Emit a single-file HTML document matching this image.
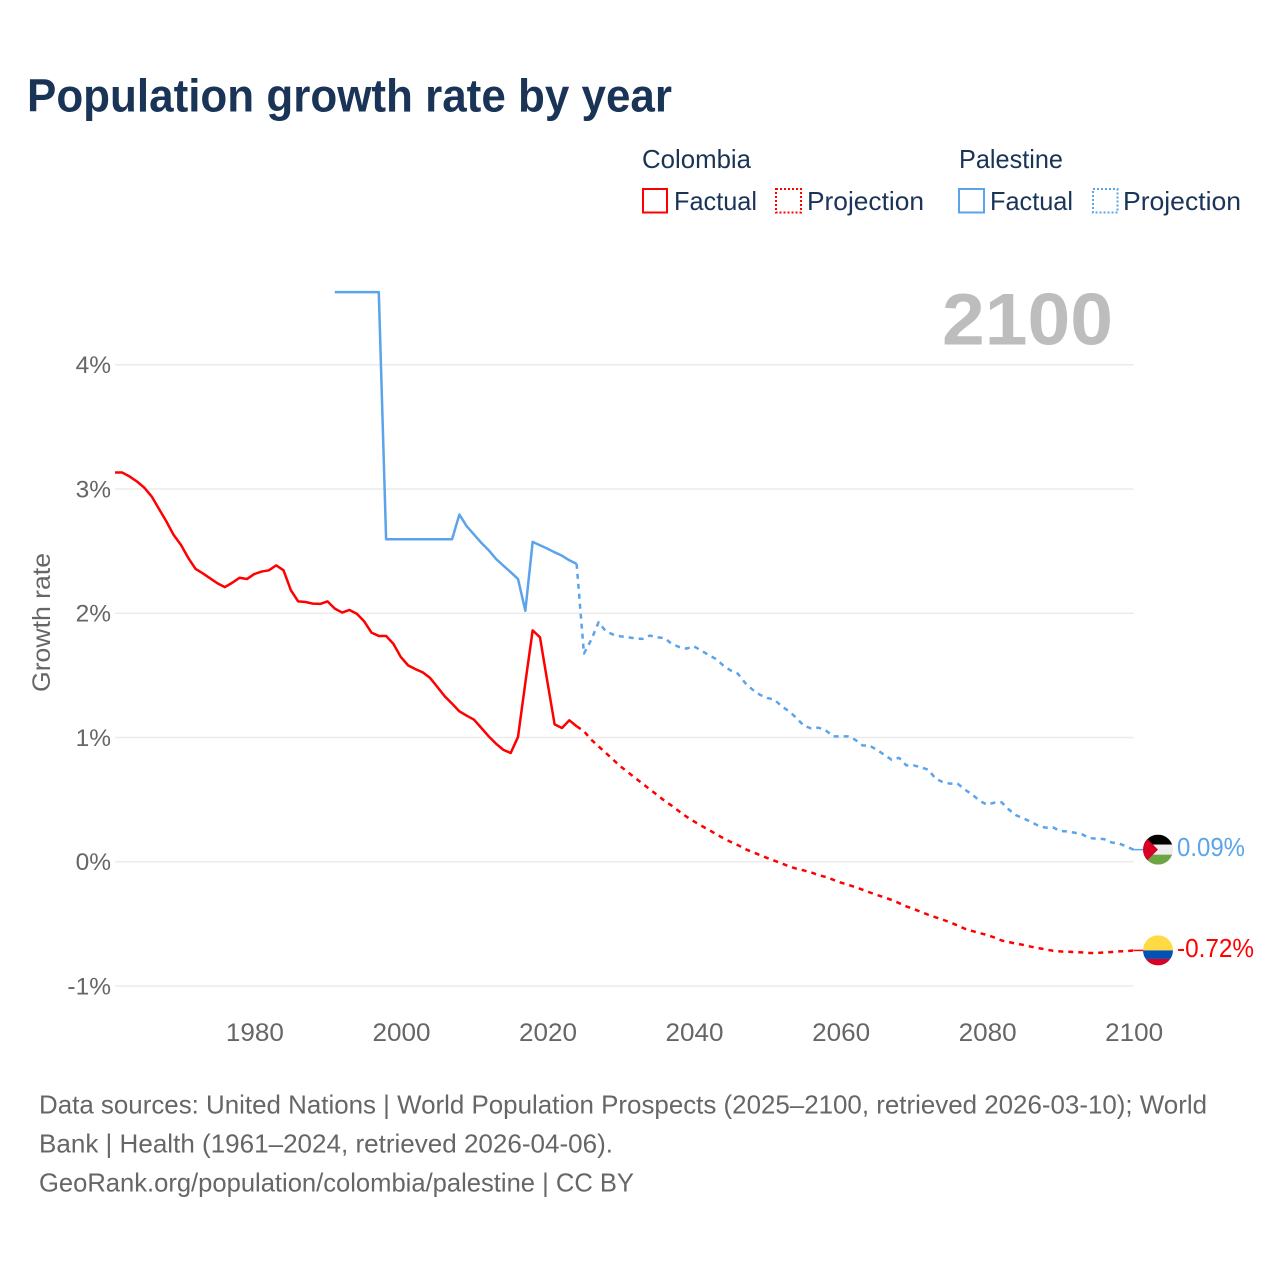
<!DOCTYPE html>
<html lang="en">
<head>
<meta charset="utf-8">
<title>Population growth rate by year</title>
<style>
  html,body{margin:0;padding:0;background:#fff;width:1280px;height:1280px;overflow:hidden}
  svg{display:block}
  text{font-family:"Liberation Sans",sans-serif}
</style>
</head>
<body>
<svg id="chart" xmlns="http://www.w3.org/2000/svg" width="1280" height="1280" viewBox="0 0 1280 1280">
  <defs>
    <clipPath id="flag-clip"><circle cx="0" cy="0" r="15"/></clipPath>
  </defs>
  <rect x="0" y="0" width="1280" height="1280" fill="#ffffff"/>

  <text x="27" y="111.5" font-size="46" font-weight="700" fill="#1a3457" textLength="645" lengthAdjust="spacingAndGlyphs">Population growth rate by year</text>

  <g font-size="26" fill="#1a3457">
    <text x="642" y="168" textLength="109" lengthAdjust="spacingAndGlyphs">Colombia</text>
    <text x="959" y="168" textLength="104" lengthAdjust="spacingAndGlyphs">Palestine</text>
    <rect x="643" y="189" width="24" height="23.5" fill="none" stroke="#ff0000" stroke-width="2"/>
    <text x="674" y="210" textLength="83" lengthAdjust="spacingAndGlyphs">Factual</text>
    <rect x="776" y="189" width="25" height="23.5" fill="none" stroke="#ff0000" stroke-width="2" stroke-dasharray="2 2"/>
    <text x="807" y="210" textLength="117" lengthAdjust="spacingAndGlyphs">Projection</text>
    <rect x="959" y="189" width="25" height="23.5" fill="none" stroke="#5ba3ea" stroke-width="2"/>
    <text x="990" y="210" textLength="83" lengthAdjust="spacingAndGlyphs">Factual</text>
    <rect x="1093" y="189" width="24.5" height="23.5" fill="none" stroke="#5ba3ea" stroke-width="2" stroke-dasharray="2 2"/>
    <text x="1123" y="210" textLength="118" lengthAdjust="spacingAndGlyphs">Projection</text>
  </g>

  <text x="1113" y="344.5" text-anchor="end" font-size="73" font-weight="700" fill="#bdbdbd" textLength="171" lengthAdjust="spacingAndGlyphs">2100</text>

  <text transform="translate(50,622.5) rotate(-90)" text-anchor="middle" font-size="25" fill="#666666" textLength="139" lengthAdjust="spacingAndGlyphs">Growth rate</text>

  <g id="grid"></g>
  <g id="y-axis"></g>
  <g id="x-axis"></g>
  <g id="series"></g>

  <g id="flag-palestine">
    <g clip-path="url(#flag-clip)">
      <rect x="-15" y="-15" width="30" height="10" fill="#000000"/>
      <rect x="-15" y="-5" width="30" height="10" fill="#eeeeee"/>
      <rect x="-15" y="5" width="30" height="10" fill="#6da544"/>
      <polygon points="-15,-15 0,0 -15,15" fill="#d80027"/>
    </g>
  </g>
  <g id="flag-colombia">
    <g clip-path="url(#flag-clip)">
      <rect x="-15" y="-15" width="30" height="15" fill="#ffda44"/>
      <rect x="-15" y="0" width="30" height="8.5" fill="#0052b4"/>
      <rect x="-15" y="8.5" width="30" height="6.5" fill="#d80027"/>
    </g>
  </g>

  <text id="value-palestine" x="1177" font-size="26" fill="#5ba3ea" textLength="68" lengthAdjust="spacingAndGlyphs"></text>
  <text id="value-colombia" x="1177" font-size="26" fill="#ff0000" textLength="77" lengthAdjust="spacingAndGlyphs"></text>

  <g font-size="26" fill="#666666">
    <text x="39" y="1113.5" textLength="1168" lengthAdjust="spacingAndGlyphs">Data sources: United Nations | World Population Prospects (2025–2100, retrieved 2026-03-10); World</text>
    <text x="39" y="1152.5" textLength="574" lengthAdjust="spacingAndGlyphs">Bank | Health (1961–2024, retrieved 2026-04-06).</text>
    <text x="39" y="1191.5" textLength="595" lengthAdjust="spacingAndGlyphs">GeoRank.org/population/colombia/palestine | CC BY</text>
  </g>
</svg>

<script>
const xTickYears = [1980, 2000, 2020, 2040, 2060, 2080, 2100];
const xTickLabels = ["1980", "2000", "2020", "2040", "2060", "2080", "2100"];
const yTickValues = [4, 3, 2, 1, 0, -1];
const yTickLabels = ["4%", "3%", "2%", "1%", "0%", "-1%"];

const colombiaFactualStart = 1961;
const colombiaFactual = [
  3.132, 3.132, 3.10, 3.06, 3.01, 2.94, 2.84, 2.74, 2.63, 2.55,
  2.445, 2.356, 2.32, 2.28, 2.24, 2.21, 2.245, 2.285, 2.275, 2.315,
  2.335, 2.345, 2.385, 2.345, 2.185, 2.095, 2.09, 2.077, 2.075, 2.095,
  2.037, 2.005, 2.026, 1.996, 1.935, 1.844, 1.817, 1.817, 1.753, 1.648,
  1.58, 1.55, 1.524, 1.479, 1.406, 1.331, 1.272, 1.21, 1.175, 1.143,
  1.076, 1.009, 0.95, 0.90, 0.875, 1.004, 1.44, 1.862, 1.806, 1.452,
  1.105, 1.076, 1.138, 1.09
];

const colombiaProjectionStart = 2024;
const colombiaProjection = [
  1.09,
  1.05, 0.982, 0.928, 0.875, 0.82, 0.767,
  0.72, 0.674, 0.628, 0.582, 0.537, 0.49, 0.45, 0.405, 0.362, 0.325,
  0.29, 0.258, 0.223, 0.19, 0.16, 0.134, 0.102, 0.078, 0.054, 0.03,
  0.008, -0.014, -0.038, -0.056, -0.07, -0.086, -0.107, -0.123, -0.145, -0.167,
  -0.185, -0.204, -0.225, -0.247, -0.268, -0.287, -0.308, -0.333, -0.36, -0.38,
  -0.405, -0.427, -0.448, -0.467, -0.489, -0.513, -0.54, -0.558, -0.574, -0.59,
  -0.61, -0.634, -0.647, -0.66, -0.67, -0.684, -0.695, -0.706, -0.717, -0.722,
  -0.725, -0.727, -0.73, -0.735, -0.735, -0.73, -0.727, -0.722, -0.72, -0.714
];

const palestineFactualStart = 1991;
const palestineFactual = [
  4.584, 4.584, 4.584, 4.584, 4.584, 4.584, 4.584,
  2.595, 2.595, 2.595, 2.595, 2.595, 2.595, 2.595, 2.595, 2.595, 2.595,
  2.794, 2.70, 2.633, 2.566, 2.507, 2.437, 2.383, 2.33, 2.276, 2.02,
  2.574, 2.547, 2.52, 2.49, 2.463, 2.426, 2.397
];

const palestineProjectionStart = 2024;
const palestineProjection = [
  2.397,
  1.675, 1.787, 1.927, 1.854, 1.828, 1.814,
  1.806, 1.798, 1.793, 1.82, 1.806, 1.80, 1.753, 1.728, 1.715, 1.734,
  1.70, 1.664, 1.632, 1.58, 1.54, 1.514, 1.439, 1.385, 1.344, 1.318,
  1.304, 1.25, 1.21, 1.157, 1.095, 1.073, 1.079, 1.057, 1.009, 1.009,
  1.009, 0.982, 0.936, 0.934, 0.90, 0.86, 0.82, 0.836, 0.775, 0.775,
  0.76, 0.74, 0.668, 0.64, 0.628, 0.628, 0.58, 0.54, 0.49, 0.459,
  0.475, 0.478, 0.419, 0.373, 0.349, 0.32, 0.29, 0.274, 0.276, 0.247,
  0.244, 0.233, 0.22, 0.19, 0.185, 0.182, 0.155, 0.147, 0.123, 0.097
];

const colombiaEndLabel = "-0.72%";
const palestineEndLabel = "0.09%";

const SVG_NS = "http://www.w3.org/2000/svg";
const xScale = function (year) { return 115 + (year - 1961) * (1133.5 - 115) / (2100 - 1961); };
const yScale = function (value) { return 861.7 - value * 124.25; };

function make(tag, parent) {
  const el = document.createElementNS(SVG_NS, tag);
  parent.appendChild(el);
  return el;
}

function pointsFor(startYear, values) {
  return values.map(function (v, i) {
    return xScale(startYear + i).toFixed(2) + "," + yScale(v).toFixed(2);
  }).join(" ");
}

const gridGroup = document.getElementById("grid");
const yAxisGroup = document.getElementById("y-axis");
const xAxisGroup = document.getElementById("x-axis");
const seriesGroup = document.getElementById("series");

yTickValues.forEach(function (value, i) {
  const line = make("line", gridGroup);
  
  
  line.setAttribute("x1", xScale(1961));
  line.setAttribute("x2", xScale(2100));
  line.setAttribute("y1", yScale(value));
  line.setAttribute("y2", yScale(value));
  line.setAttribute("stroke", "#ebebeb");
  line.setAttribute("stroke-width", "1.5");

  const label = make("text", yAxisGroup);
  
  
  label.setAttribute("x", "111");
  label.setAttribute("y", yScale(value) + 8.5);
  label.setAttribute("text-anchor", "end");
  label.setAttribute("font-size", "24.5");
  label.setAttribute("fill", "#666666");
  label.textContent = yTickLabels[i];
});

xTickYears.forEach(function (year, i) {
  const label = make("text", xAxisGroup);
  
  
  label.setAttribute("x", xScale(year) + 0.7);
  label.setAttribute("y", "1041");
  label.setAttribute("text-anchor", "middle");
  label.setAttribute("font-size", "25");
  label.setAttribute("fill", "#666666");
  label.setAttribute("textLength", "58");
  label.setAttribute("lengthAdjust", "spacingAndGlyphs");
  label.textContent = xTickLabels[i];
});

function drawLine(startYear, values, colour, dashed, name) {
  const line = make("polyline", seriesGroup);
  
  
  line.setAttribute("points", pointsFor(startYear, values));
  line.setAttribute("fill", "none");
  line.setAttribute("stroke", colour);
  line.setAttribute("stroke-width", "2.5");
  line.setAttribute("stroke-linejoin", "round");
  if (dashed) {
    line.setAttribute("stroke-dasharray", "5 5");
  }
}

function drawTail(startYear, values, colour, name) {
  const last = values[values.length - 1];
  const lastX = xScale(startYear + values.length - 1);
  const tail = make("line", seriesGroup);
  
  
  tail.setAttribute("x1", lastX);
  tail.setAttribute("x2", lastX + 10);
  tail.setAttribute("y1", yScale(last));
  tail.setAttribute("y2", yScale(last));
  tail.setAttribute("stroke", colour);
  tail.setAttribute("stroke-width", "1.5");
}

function placeEnd(flagId, valueId, startYear, values, text) {
  const last = values[values.length - 1];
  const lastY = yScale(last);
  const flagX = xScale(startYear + values.length - 1) + 24.5;
  document.getElementById(flagId).setAttribute("transform", "translate(" + flagX + "," + lastY + ")");
  const valueEl = document.getElementById(valueId);
  valueEl.setAttribute("y", lastY + 6.5);
  valueEl.textContent = text;
}

drawLine(colombiaFactualStart, colombiaFactual, "#ff0000", false, "colombia-factual-line");
drawLine(colombiaProjectionStart, colombiaProjection, "#ff0000", true, "colombia-projection-line");
drawLine(palestineFactualStart, palestineFactual, "#5ba3ea", false, "palestine-factual-line");
drawLine(palestineProjectionStart, palestineProjection, "#5ba3ea", true, "palestine-projection-line");
drawTail(colombiaProjectionStart, colombiaProjection, "#ff0000", "colombia-line-tail");
drawTail(palestineProjectionStart, palestineProjection, "#5ba3ea", "palestine-line-tail");

placeEnd("flag-palestine", "value-palestine", palestineProjectionStart, palestineProjection, palestineEndLabel);
placeEnd("flag-colombia", "value-colombia", colombiaProjectionStart, colombiaProjection, colombiaEndLabel);
</script>
</body>
</html>
